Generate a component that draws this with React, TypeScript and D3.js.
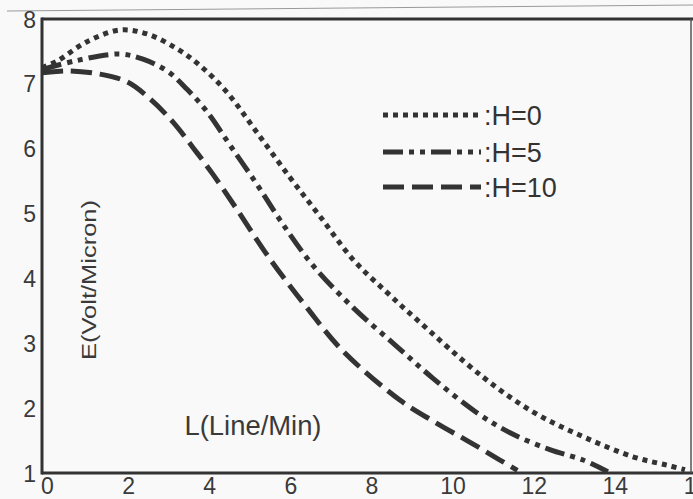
import React, { useRef, useEffect } from "react";
import * as d3 from "d3";

// L (Line/Min) and E (Volt/Micron)
const lH0 = [0, 0.37, 1.11, 1.92, 2.59, 3.33, 3.9, 4.56, 5.3, 6.11, 6.85, 7.67, 8.51, 9.25, 10.87, 12.11, 13.34, 14.57, 15.41, 15.85];
const eH0 = [7.25, 7.35, 7.65, 7.83, 7.77, 7.54, 7.28, 6.87, 6.25, 5.56, 4.96, 4.29, 3.78, 3.36, 2.48, 1.94, 1.56, 1.25, 1.12, 1.05];

const lH5 = [0, 0.86, 1.92, 2.49, 3.08, 3.57, 4.07, 4.64, 5.3, 5.87, 6.68, 7.67, 8.75, 9.64, 10.72, 11.54, 12.52, 13.34, 13.95];
const eH5 = [7.22, 7.36, 7.46, 7.38, 7.2, 6.92, 6.57, 6.05, 5.45, 4.9, 4.2, 3.55, 2.95, 2.46, 1.93, 1.62, 1.36, 1.2, 1.02];

const lH10 = [0, 0.62, 1.43, 2.1, 2.66, 3.23, 3.72, 4.22, 4.81, 5.62, 6.53, 7.42, 8.83, 9.64, 10.48, 11.29, 11.72];
const eH10 = [7.17, 7.2, 7.15, 7.03, 6.77, 6.41, 6.02, 5.6, 5.06, 4.3, 3.55, 2.88, 2.12, 1.8, 1.5, 1.2, 1.04];

const seriesNames = [":H=0", ":H=5", ":H=10"];
const xTicks = [0, 2, 4, 6, 8, 10, 12, 14, 16];
const yTicks = [1, 2, 3, 4, 5, 6, 7, 8];

const App = () => {
  const ref = useRef<SVGSVGElement>(null);

  useEffect(() => {
    const svg = d3.select(ref.current);
    svg.selectAll("*").remove();

    const width = 693;
    const height = 499;
    const left = 42, right = 691, top = 19, bottom = 473;
    const ink = "#333";
    const font = "'Liberation Sans Narrow', 'Liberation Sans', Arial, sans-serif";

    svg.attr("width", width).attr("height", height);
    svg.append("rect").attr("width", width).attr("height", height).attr("fill", "#f9f9f9");

    // faint page line from the scan
    svg.append("line")
      .attr("x1", 7).attr("y1", 11).attr("x2", width).attr("y2", 5)
      .attr("stroke", "#999").attr("stroke-width", 1);

    const x = d3.scaleLinear().domain([0, 16]).range([left, right]);
    const y = d3.scaleLinear().domain([1, 8]).range([bottom, top]);

    // frame
    svg.append("line").attr("x1", left).attr("x2", width).attr("y1", top).attr("y2", top)
      .attr("stroke", ink).attr("stroke-width", 3);
    svg.append("line").attr("x1", left).attr("x2", width).attr("y1", bottom).attr("y2", bottom)
      .attr("stroke", ink).attr("stroke-width", 3);
    svg.append("line").attr("x1", left).attr("x2", left).attr("y1", top - 1.5).attr("y2", bottom + 1.5)
      .attr("stroke", ink).attr("stroke-width", 3);
    svg.append("line").attr("x1", right).attr("x2", right).attr("y1", top).attr("y2", bottom)
      .attr("stroke", "#555").attr("stroke-width", 1.5);

    // axes (labels only)
    const yAxis = svg.append("g")
      .attr("transform", `translate(${left - 4},0)`)
      .call(d3.axisLeft(y).tickValues(yTicks).tickFormat(d3.format("d")).tickSize(0).tickPadding(2));
    yAxis.select(".domain").remove();
    yAxis.selectAll("text")
      .attr("font-family", font).attr("font-size", 23).attr("fill", "#3a3a3a")
      .attr("dy", "0.35em");

    const xAxis = svg.append("g")
      .attr("transform", `translate(0,${bottom})`)
      .call(d3.axisBottom(x).tickValues(xTicks).tickFormat(d3.format("d")).tickSize(0).tickPadding(5));
    xAxis.select(".domain").remove();
    xAxis.selectAll("text")
      .attr("font-family", font).attr("font-size", 23).attr("fill", "#3a3a3a")
      .attr("dx", 5);

    // axis titles
    svg.append("text")
      .attr("transform", `translate(96,${280}) rotate(-90)`)
      .attr("text-anchor", "middle")
      .attr("font-family", "'Liberation Sans', Arial, sans-serif")
      .attr("font-size", 21).attr("fill", "#3a3a3a")
      .attr("textLength", 160).attr("lengthAdjust", "spacingAndGlyphs")
      .text("E(Volt/Micron)");
    svg.append("text")
      .attr("x", 253).attr("y", 435)
      .attr("text-anchor", "middle")
      .attr("font-family", "'Liberation Sans', Arial, sans-serif")
      .attr("font-size", 27).attr("fill", "#3a3a3a")
      .attr("textLength", 137).attr("lengthAdjust", "spacingAndGlyphs")
      .text("L(Line/Min)");

    const series = [
      { l: lH0, e: eH0, dash: "5,5" },
      { l: lH5, e: eH5, dash: "20,6,5,6,5,6" },
      { l: lH10, e: eH10, dash: "21,8" },
    ];

    const line = d3.line<[number, number]>()
      .x((d) => x(d[0]))
      .y((d) => y(d[1]))
      .curve(d3.curveCatmullRom.alpha(0.5));

    series.forEach((s) => {
      const pts = s.l.map((v, i) => [v, s.e[i]] as [number, number]);
      svg.append("path")
        .attr("d", line(pts))
        .attr("fill", "none")
        .attr("stroke", ink)
        .attr("stroke-width", 5)
        .attr("stroke-dasharray", s.dash);
    });

    // legend
    const legendY = [115, 152, 187];
    series.forEach((s, i) => {
      svg.append("line")
        .attr("x1", 383).attr("x2", 481)
        .attr("y1", legendY[i]).attr("y2", legendY[i])
        .attr("stroke", ink).attr("stroke-width", 5)
        .attr("stroke-dasharray", s.dash);
      svg.append("text")
        .attr("x", 484).attr("y", legendY[i] + 10)
        .attr("font-family", "'Liberation Sans', Arial, sans-serif")
        .attr("font-size", 27).attr("fill", "#333")
        .text(seriesNames[i]);
    });

    return () => {
      svg.selectAll("*").remove();
    };
  }, []);

  return (
    <svg
      ref={ref}
      style={{ position: "absolute", left: 0, top: 0, display: "block" }}
    />
  );
};

export default App;
